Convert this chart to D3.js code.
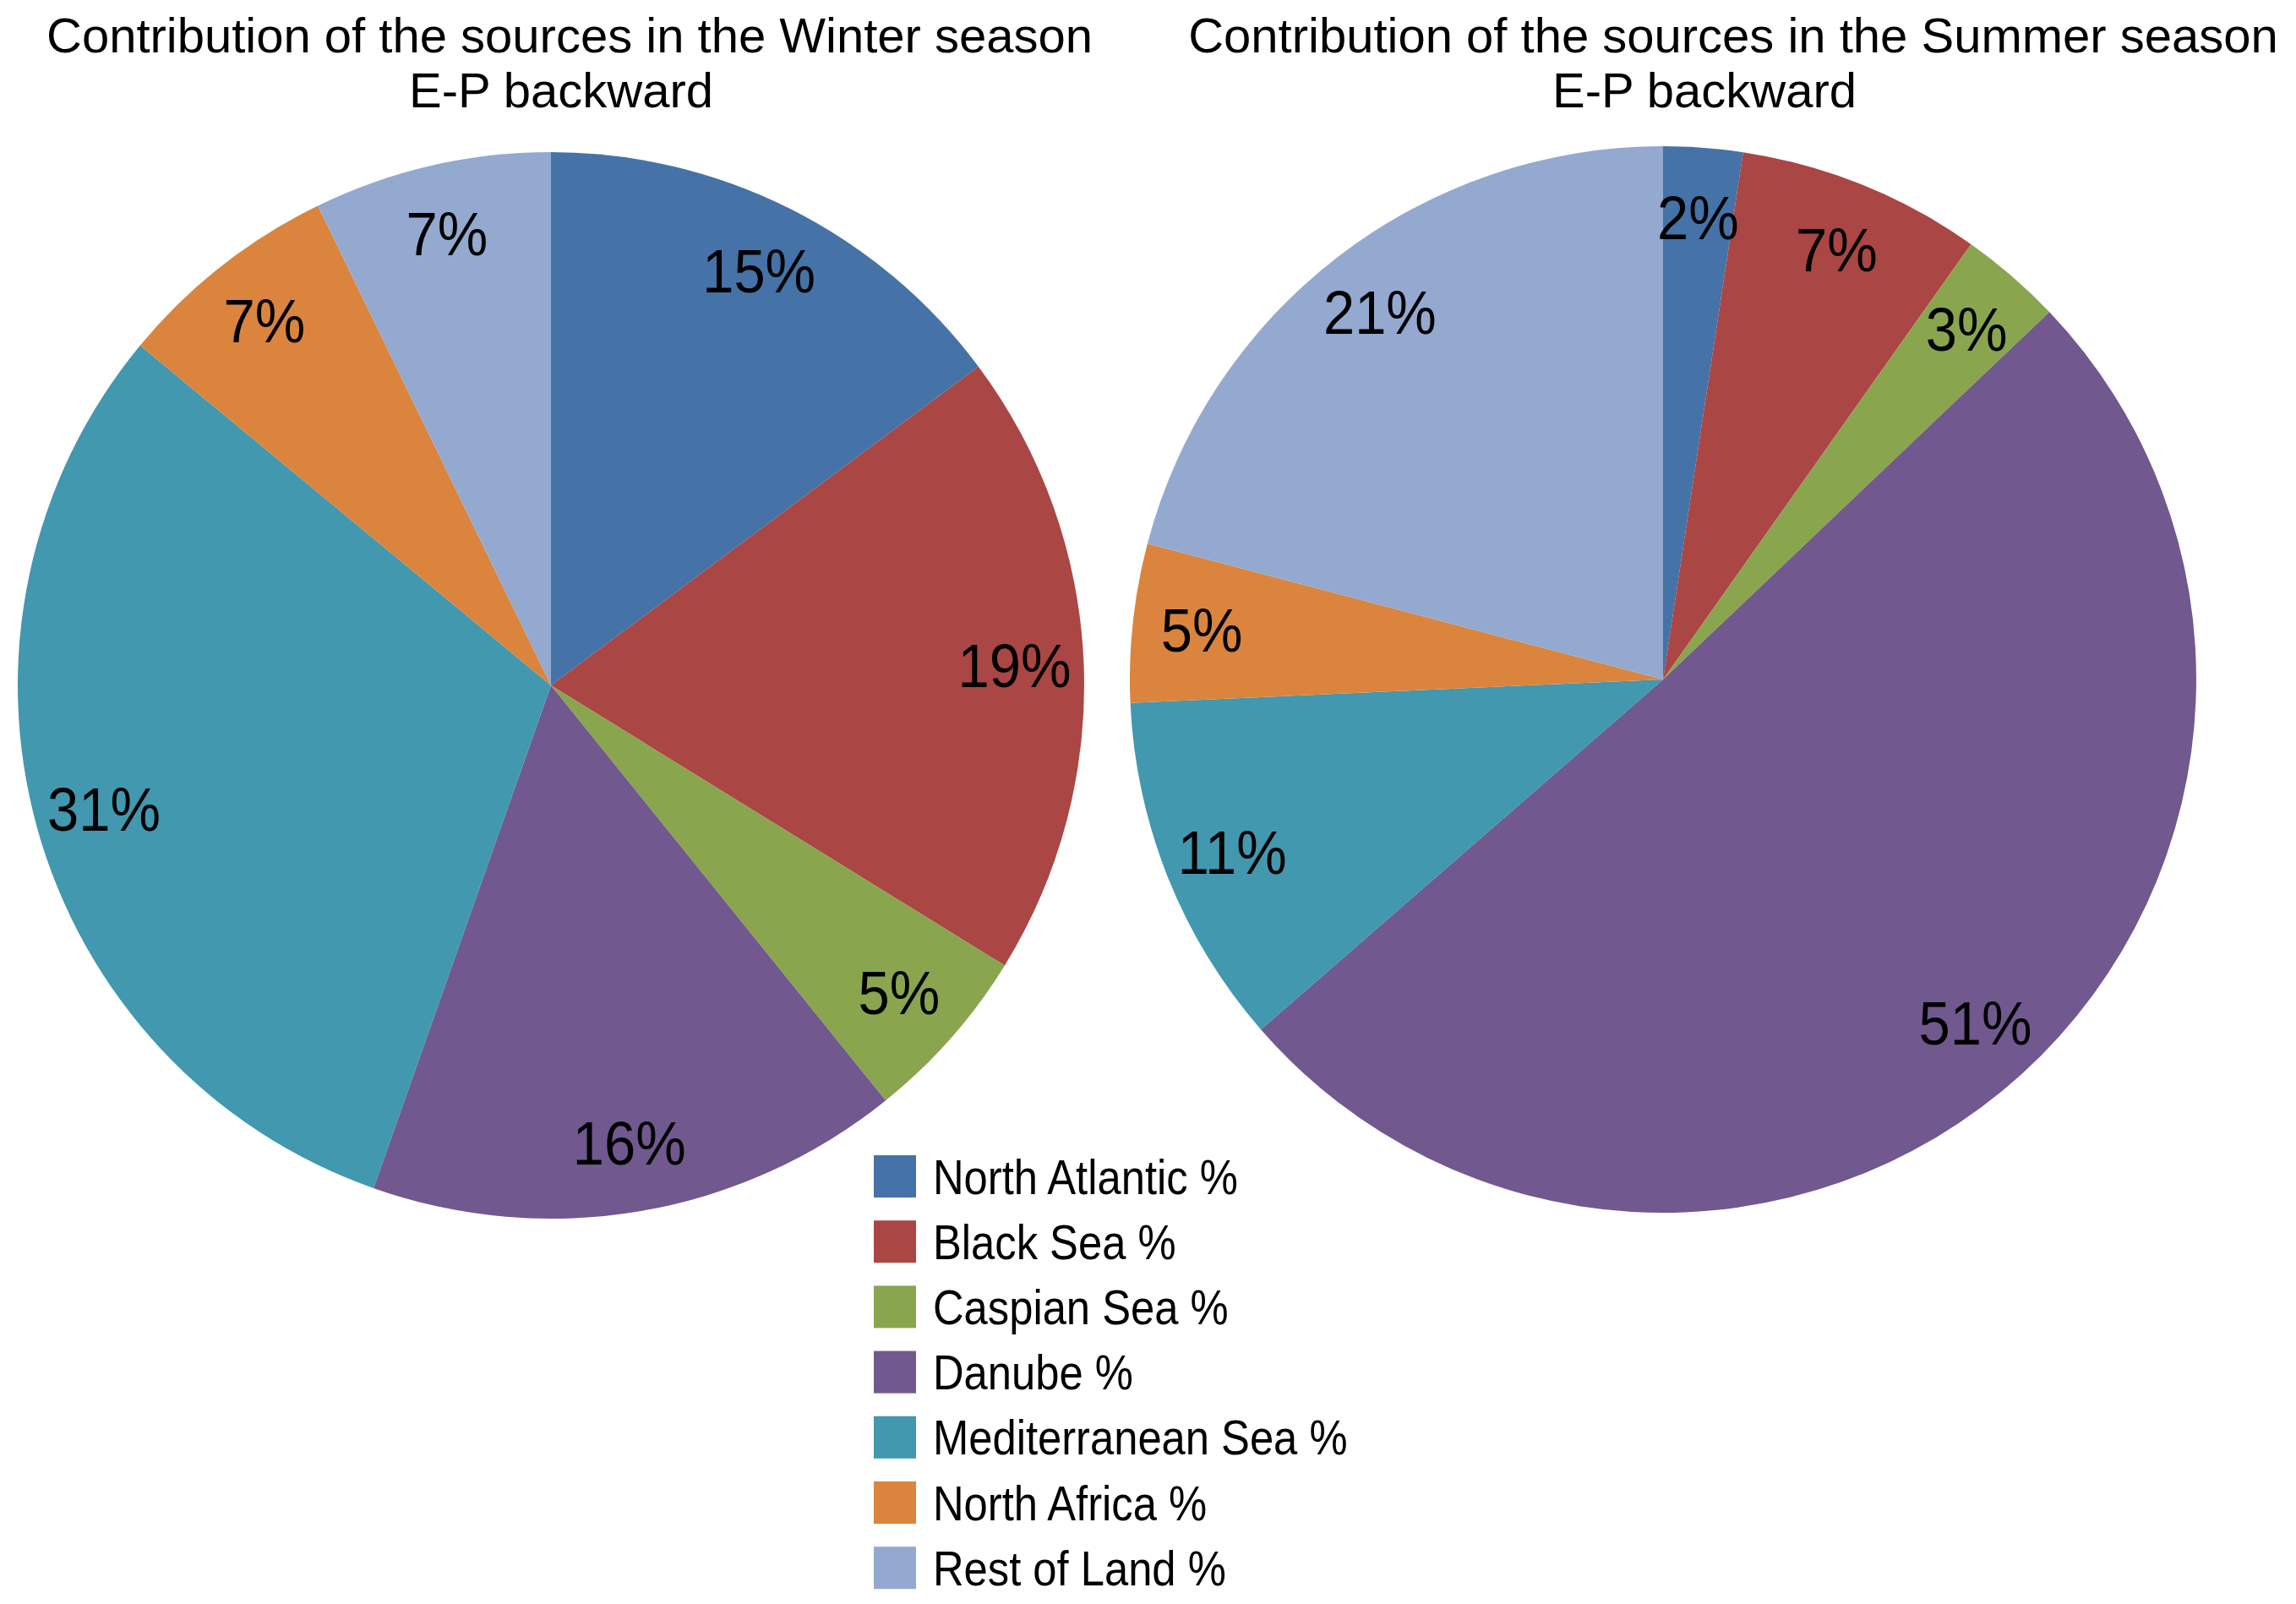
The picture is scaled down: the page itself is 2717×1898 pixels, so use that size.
<!DOCTYPE html>
<meta charset="utf-8">
<script src="https://d3js.org/d3.v7.min.js"></script>
<style>
  body { margin: 0; background: #fff; }
  text { font-family: "Liberation Sans", Arial, sans-serif; fill: #000; }
</style>
<div id="chart"></div>
<script>
// categories and colours (same order in both pies and in the legend)
var categories = ["North Atlantic %", "Black Sea %", "Caspian Sea %", "Danube %",
                  "Mediterranean Sea %", "North Africa %", "Rest of Land %"];
var colors = ["#4572A7", "#AA4643", "#89A54E", "#71588F", "#4198AF", "#DB843D", "#93A9CF"];

// contributions (percent)
var winterValues = [14.8, 19.0, 5.4, 16.2, 30.6, 6.8, 7.2];
var summerValues = [2.4, 7.4, 3.1, 50.7, 10.7, 4.8, 20.9];

var winterTitle = ["Contribution of the sources in the Winter season", "E-P backward"];
var summerTitle = ["Contribution of the sources in the Summer season", "E-P backward"];

var width = 2717, height = 1898;
var radius = 631;

var svg = d3.select("#chart")
  .append("svg")
    .attr("width", width)
    .attr("height", height);

svg.append("rect")
  .attr("width", width)
  .attr("height", height)
  .attr("fill", "#fff");

var pie = d3.pie().sort(null).value(d => d);
var arc = d3.arc().innerRadius(0).outerRadius(radius);
var labelArc = d3.arc().innerRadius(radius * 0.87).outerRadius(radius * 0.87);
var fmt = d3.format(".0f");

function drawPie(values, cx, cy) {
  var g = svg.append("g")
    .attr("transform", "translate(" + cx + "," + cy + ")");

  var slices = pie(values);

  g.selectAll("path")
    .data(slices)
    .enter()
    .append("path")
      .attr("d", arc)
      .attr("fill", (d, i) => colors[i]);

  // labels, slightly condensed like the original
  g.selectAll("text")
    .data(slices)
    .enter()
    .append("text")
      .attr("transform", d => "translate(" + labelArc.centroid(d) + ") scale(0.93,1)")
      .attr("text-anchor", "middle")
      .attr("dy", "0.36em")
      .attr("font-size", 72)
      .text(d => fmt(d.data) + "%");
}

function drawTitle(lines, xs) {
  lines.forEach(function(line, i) {
    svg.append("text")
      .attr("x", xs[i])
      .attr("y", 62 + i * 65)
      .attr("text-anchor", "middle")
      .attr("font-size", 58)
      .text(line);
  });
}

drawPie(winterValues, 652, 811);
drawPie(summerValues, 1968, 804);

drawTitle(winterTitle, [674, 664]);
drawTitle(summerTitle, [2051, 2017]);

// legend
var legend = svg.append("g")
  .attr("transform", "translate(1034,1392)");

var rows = legend.selectAll("g")
  .data(categories)
  .enter()
  .append("g")
    .attr("transform", (d, i) => "translate(0," + (i * 77.2) + ")");

rows.append("rect")
  .attr("x", 0)
  .attr("y", -25)
  .attr("width", 50)
  .attr("height", 50)
  .attr("fill", (d, i) => colors[i]);

rows.append("text")
  .attr("transform", "translate(70,0) scale(0.89,1)")
  .attr("dy", "0.36em")
  .attr("font-size", 57)
  .text(d => d);
</script>
